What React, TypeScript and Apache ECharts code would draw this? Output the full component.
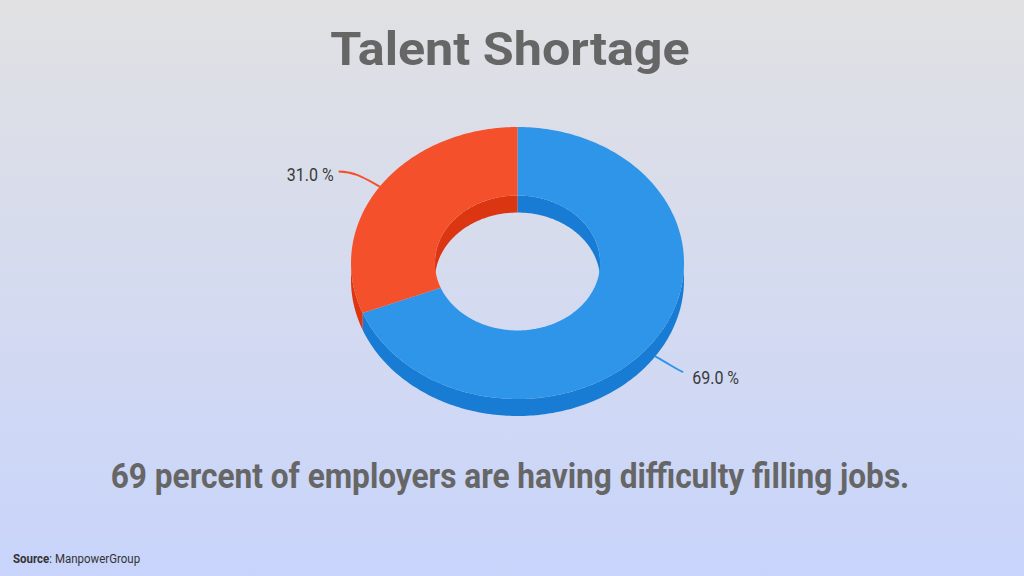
import React, { useEffect, useRef } from "react";
import * as echarts from "echarts";

// ---- Data ----
const TITLE = "Talent Shortage";
const SUBTITLE = "69 percent of employers are having difficulty filling jobs.";
const SOURCE_LABEL = "Source";
const SOURCE_NAME = "ManpowerGroup";
const categories = ["Having difficulty filling jobs", "Not having difficulty"];
const values = [69, 31];

// ---- Styles ----
const TOP_COLORS = ["#2f95e8", "#f5502c"];
const SIDE_COLORS = ["#187cd5", "#dc3511"];
const TEXT_GRAY = "#666666";
const LABEL_COLOR = "#3a3a3a";

// ---- Layout (3D donut geometry) ----
const CX = 517.5;
const CY = 263;
const RX = 166.5;
const RY = 136;
const INNER = 0.496;
const DEPTH = 17;
const LEADERS = [
  { radial: 32, horiz: 0, gap: 9, dy: 5.5 },
  { radial: 31, horiz: 14, gap: 5, dy: 3.5 },
];

const total = values.reduce((a, b) => a + b, 0);

function ellipsePts(r: number, a1: number, a2: number, dy: number): number[][] {
  const n = Math.max(2, Math.ceil(Math.abs(a2 - a1)) + 1);
  const pts: number[][] = [];
  for (let i = 0; i < n; i++) {
    const a = ((a1 + ((a2 - a1) * i) / (n - 1)) * Math.PI) / 180;
    pts.push([CX + RX * r * Math.cos(a), CY + dy - RY * r * Math.sin(a)]);
  }
  return pts;
}

function clip(lo: number, hi: number, vlo: number, vhi: number): number[][] {
  const out: number[][] = [];
  for (const k of [-720, -360, 0, 360, 720]) {
    const a = Math.max(lo + k, vlo);
    const b = Math.min(hi + k, vhi);
    if (b > a) out.push([a, b]);
  }
  return out;
}

function renderItem(params: any, api: any) {
  const i = params.dataIndex;
  const v = api.value(0);
  let cum = 0;
  for (let k = 0; k < i; k++) cum += values[k];
  const start = 90 - (360 * cum) / total;
  const end = 90 - (360 * (cum + v)) / total;
  const lo = end;
  const hi = start;
  const children: any[] = [];

  // outer wall (front half)
  for (const [a, b] of clip(lo, hi, 180, 360)) {
    const pts = ellipsePts(1, a, b, 0).concat(ellipsePts(1, b, a, DEPTH));
    children.push({ type: "polygon", z2: 1, shape: { points: pts }, style: { fill: SIDE_COLORS[i] } });
  }
  // inner wall (back half)
  for (const [a, b] of clip(lo, hi, 0, 180)) {
    const pts = ellipsePts(INNER, a, b, 0).concat(ellipsePts(INNER, b, a, DEPTH));
    children.push({ type: "polygon", z2: 1, shape: { points: pts }, style: { fill: SIDE_COLORS[i] } });
  }
  // top face
  const top = ellipsePts(1, lo, hi, 0).concat(ellipsePts(INNER, hi, lo, 0));
  children.push({ type: "polygon", z2: 2, shape: { points: top }, style: { fill: TOP_COLORS[i] } });

  // leader line + label
  const mid = ((lo + hi) / 2) * Math.PI / 180;
  const sx = CX + RX * Math.cos(mid);
  const front = Math.sin(mid) < 0;
  const sy = CY - RY * Math.sin(mid) + (front ? DEPTH : 0);
  const dx = RX * Math.cos(mid);
  const dyv = -RY * Math.sin(mid);
  const len = Math.sqrt(dx * dx + dyv * dyv);
  const ux = dx / len;
  const uy = dyv / len;
  const L = LEADERS[i % LEADERS.length];
  const side = ux >= 0 ? 1 : -1;
  const mx = sx + ux * L.radial;
  const my = sy + uy * L.radial;
  const ex = mx + side * L.horiz;
  const ey = my;
  children.push({
    type: "bezierCurve",
    z2: 0,
    shape: {
      x1: sx,
      y1: sy,
      cpx1: sx + ux * L.radial * 0.55,
      cpy1: sy + uy * L.radial * 0.55,
      cpx2: mx - side * 2,
      cpy2: ey,
      x2: ex,
      y2: ey,
    },
    style: { stroke: TOP_COLORS[i], lineWidth: 2, fill: null },
  });
  const pct = ((v / total) * 100).toFixed(1) + " %";
  children.push({
    type: "text",
    z2: 3,
    x: ex + side * L.gap,
    y: ey + L.dy,
    scaleX: 0.89,
    style: {
      text: pct,
      fill: LABEL_COLOR,
      fontSize: 18,
      fontFamily: "Roboto",
      align: side > 0 ? "left" : "right",
      verticalAlign: "middle",
    },
  });
  return { type: "group", children };
}

export default function App() {
  const ref = useRef<HTMLDivElement>(null);
  useEffect(() => {
    document.body.style.margin = "0";
    if (!ref.current) return;
    const chart = echarts.init(ref.current, null, { renderer: "svg" });
    chart.setOption({
      animation: false,
      backgroundColor: {
        type: "linear",
        x: 0,
        y: 0,
        x2: 0,
        y2: 1,
        colorStops: [
          { offset: 0, color: "#e1e1e3" },
          { offset: 1, color: "#c8d4fb" },
        ],
      },
      graphic: [
        {
          type: "text",
          x: 510,
          y: 49,
          scaleX: 1.07,
          style: {
            text: TITLE,
            fill: TEXT_GRAY,
            fontSize: 47,
            fontWeight: "bold",
            fontFamily: "Roboto",
            align: "center",
            verticalAlign: "middle",
          },
        },
        {
          type: "text",
          x: 510,
          y: 476,
          scaleX: 0.903,
          style: {
            text: SUBTITLE,
            fill: TEXT_GRAY,
            fontSize: 35,
            fontWeight: "bold",
            fontFamily: "Roboto",
            align: "center",
            verticalAlign: "middle",
          },
        },
        {
          type: "text",
          x: 13,
          y: 559,
          scaleX: 0.92,
          style: {
            text: "{b|" + SOURCE_LABEL + "}: " + SOURCE_NAME,
            fill: "#333333",
            fontSize: 12.5,
            fontFamily: "Roboto",
            align: "left",
            verticalAlign: "middle",
            rich: { b: { fontWeight: "bold", fontSize: 12.5, fontFamily: "Roboto", fill: "#333333" } },
          },
        },
      ],
      series: [
        {
          type: "custom",
          coordinateSystem: "none",
          renderItem,
          data: values.map((v, i) => ({ value: v, name: categories[i] })),
        },
      ],
    });
    return () => chart.dispose();
  }, []);
  return <div ref={ref} style={{ width: 1024, height: 576 }} />;
}
